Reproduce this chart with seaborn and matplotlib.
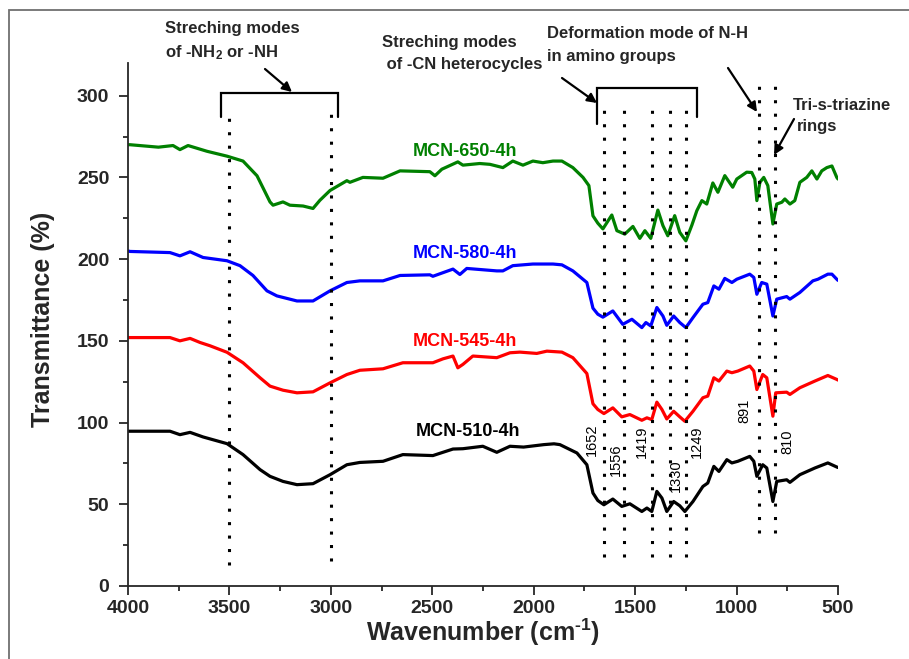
import matplotlib
matplotlib.use("Agg")
import matplotlib.pyplot as plt
from matplotlib.patches import Rectangle
from matplotlib.ticker import MultipleLocator
import numpy as np
import pandas as pd
import seaborn as sns

# ---------------- data ----------------
wn_650 = [4000, 3990, 3850, 3778, 3744, 3704, 3611, 3512, 3433, 3364, 3300, 3285, 3236, 3202, 3137, 3088,
          3054, 3004, 2921, 2906, 2842, 2743, 2659, 2512, 2487, 2453, 2374, 2349, 2266, 2216, 2152, 2103,
          2053, 2004, 1955, 1905, 1861, 1807, 1757, 1728, 1708, 1684, 1659, 1615, 1590, 1551, 1511, 1477,
          1452, 1423, 1388, 1363, 1339, 1305, 1280, 1250, 1220, 1196, 1171, 1147, 1117, 1092, 1058, 1019,
          999, 950, 925, 910, 900, 885, 866, 846, 821, 802, 777, 762, 737, 713, 688, 654, 629, 604, 580,
          555, 530, 506, 500]
t_650 = [270, 270, 268.5, 269.5, 267, 269.5, 266, 263, 260, 251, 235, 233, 235, 233, 232.5, 231,
         236, 242, 248, 247, 250, 249.5, 254, 253.5, 251, 255, 259.5, 257.5, 258.5, 258, 256, 260,
         257.5, 260, 259, 260, 260, 256, 250, 245, 226.5, 222, 218.5, 227, 217.4, 215.3, 220, 212.7,
         217.4, 212.7, 230, 220.5, 214.3, 226.6, 216.4, 211.2, 220.9, 229.6, 235.8, 233.7, 246.6, 240.9,
         251.1, 244, 249, 253.2, 253, 249, 235.8, 247, 250, 245, 221.5, 233.7, 234.8, 236.8, 233.7,
         235.8, 247, 250, 254, 249, 254, 256, 257, 250, 249]

wn_580 = [4000, 3990, 3793, 3744, 3694, 3630, 3512, 3448, 3384, 3315, 3266, 3167, 3088, 3004, 2921, 2857,
          2743, 2659, 2512, 2497, 2398, 2364, 2330, 2300, 2182, 2152, 2103, 2004, 1905, 1861, 1807, 1738,
          1708, 1684, 1659, 1610, 1561, 1516, 1467, 1447, 1423, 1393, 1363, 1344, 1310, 1280, 1250, 1215,
          1166, 1142, 1112, 1087, 1058, 1023, 999, 935, 915, 900, 876, 851, 821, 802, 753, 737, 688, 624,
          599, 550, 530, 506, 500]
t_580 = [205, 204.7, 204, 202, 204.5, 201, 199, 196, 190, 180.6, 177.5, 174.4, 174.4, 180.6, 185.7, 186.7,
         186.7, 190, 190.4, 189.5, 193.9, 190.6, 194.3, 194, 192.8, 192.8, 196, 197, 197, 196.5, 192.8, 185.7,
         170, 166.3, 164.5, 168.3, 160.1, 163.2, 158.1, 161.2, 159.1, 170.4, 165.2, 159.5, 165.2, 161.2, 158.1,
         164.2, 172.4, 173.4, 183.6, 181.6, 188.2, 185.7, 187.7, 190.8, 188.8, 178.5, 185.7, 184.7, 165.2,
         175.5, 177.1, 175.5, 179.6, 186.7, 187.7, 190.8, 190.8, 187.7, 187]

wn_545 = [4000, 3990, 3793, 3744, 3694, 3645, 3596, 3512, 3433, 3349, 3300, 3236, 3167, 3088, 3004, 2921,
          2857, 2743, 2645, 2497, 2447, 2398, 2374, 2349, 2300, 2182, 2117, 2068, 1985, 1935, 1861, 1807,
          1738, 1708, 1684, 1654, 1610, 1566, 1526, 1467, 1442, 1418, 1393, 1368, 1344, 1310, 1280, 1255,
          1215, 1166, 1142, 1112, 1087, 1048, 1023, 994, 935, 915, 900, 871, 851, 821, 807, 753, 737, 688,
          614, 550, 506, 500]
t_545 = [152, 152, 152, 150, 151.5, 149, 147, 143, 136.6, 127.4, 122.3, 119.8, 118.2, 118.8, 124.3, 129.4,
         132, 132.9, 136.6, 136.6, 139, 140.7, 133.5, 135.6, 140.7, 139.7, 142.7, 143.1, 142.3, 143.7, 143.1,
         139.7, 130, 111.5, 108, 105.5, 109, 103.5, 104.9, 101.4, 102.9, 101.8, 112.5, 108, 102.2, 106.9,
         103.5, 100.8, 106.9, 115.2, 116.2, 127.4, 125.4, 131.5, 130.5, 131.5, 134.6, 131.5, 120.2, 129.4,
         127.4, 103.9, 118.2, 118.6, 117.2, 121.3, 125.4, 128.8, 126.4, 126]

wn_510 = [4000, 3990, 3793, 3744, 3694, 3630, 3512, 3433, 3349, 3300, 3236, 3167, 3088, 3004, 2921, 2857,
          2743, 2645, 2497, 2398, 2349, 2251, 2182, 2117, 2050, 1950, 1900, 1871, 1787, 1738, 1708, 1684,
          1654, 1610, 1566, 1526, 1467, 1442, 1418, 1393, 1368, 1344, 1310, 1280, 1255, 1215, 1166, 1142,
          1112, 1087, 1048, 1023, 994, 935, 915, 900, 871, 851, 821, 802, 753, 737, 688, 614, 550, 506, 500]
t_510 = [94.7, 94.7, 94.7, 92.6, 94, 91.2, 87.1, 80.4, 71.2, 67.1, 64, 62, 62.6, 68.1, 74.2, 75.6,
         76.3, 80.4, 79.8, 83.8, 84, 85.5, 81.8, 85.5, 85, 86.5, 87, 86.5, 81.4, 74.2, 56.9, 52.3,
         49.7, 53.2, 48.7, 50.3, 45.6, 47.7, 45.6, 57.9, 53.8, 45.6, 51.7, 49.1, 45.6, 51.7, 60.9, 63,
         73.2, 70.1, 77.3, 75.3, 76.3, 79.3, 76.3, 67.1, 74.2, 72.2, 51.7, 64, 65, 63.4, 68.1, 72.2, 75.3,
         72.8, 72.5]

series_names = ["MCN-650-4h", "MCN-580-4h", "MCN-545-4h", "MCN-510-4h"]
series_colors = ["#008000", "#0000FF", "#FF0000", "#000000"]

peak_positions = [1652, 1556, 1419, 1330, 1249, 891, 810]
peak_labels = ["1652", "1556", "1419", "1330", "1249", "891", "810"]
nh_positions = [3500, 3000]

x_ticks = [4000, 3500, 3000, 2500, 2000, 1500, 1000, 500]
y_ticks = [0, 50, 100, 150, 200, 250, 300]

# ---------------- style ----------------
sns.set_style("ticks")
plt.rcParams["font.family"] = ["Liberation Sans", "DejaVu Sans"]
plt.rcParams["font.weight"] = "bold"
plt.rcParams["axes.labelweight"] = "bold"
plt.rcParams["mathtext.fontset"] = "custom"
plt.rcParams["mathtext.rm"] = "Liberation Sans:bold"
plt.rcParams["mathtext.it"] = "Liberation Sans:bold"
plt.rcParams["mathtext.bf"] = "Liberation Sans:bold"
plt.rcParams["mathtext.default"] = "rm"

W, H = 909, 659
fig = plt.figure(figsize=(W / 100, H / 100), dpi=100)
fig.patch.set_facecolor("white")
ax = fig.add_axes([128 / W, 1 - 586 / H, (838 - 128) / W, (586 - 63) / H])

def fx(px):
    return px / W

def fy(py):
    return 1 - py / H

# ---------------- curves ----------------
data_sets = [(wn_650, t_650), (wn_580, t_580), (wn_545, t_545), (wn_510, t_510)]
for (wn, t), name, col in zip(data_sets, series_names, series_colors):
    df = pd.DataFrame({"Wavenumber": wn, "Transmittance": t})
    sns.lineplot(data=df, x="Wavenumber", y="Transmittance", color=col, lw=2.3,
                 ax=ax, sort=False, estimator=None, legend=False)

ax.set_xlim(4000, 500)
ax.set_ylim(0, 320)
ax.xaxis.set_major_locator(MultipleLocator(500))
ax.xaxis.set_minor_locator(MultipleLocator(250))
ax.yaxis.set_major_locator(MultipleLocator(50))
ax.yaxis.set_minor_locator(MultipleLocator(25))
ax.set_xticks(x_ticks)
ax.set_yticks(y_ticks)
sns.despine(ax=ax)
for s in ["left", "bottom"]:
    ax.spines[s].set_linewidth(1.3)
ax.tick_params(axis="both", which="major", direction="out", length=6.5, width=1.3, labelsize=14)
ax.tick_params(axis="both", which="minor", direction="out", length=3.6, width=1.3)
ax.tick_params(axis="y", which="major", pad=7)
ax.tick_params(axis="x", which="major", pad=3.5)
for lbl in ax.get_xticklabels() + ax.get_yticklabels():
    lbl.set_fontweight("bold")

ax.set_xlabel(r"Wavenumber (cm$^{\text{-1}}$)", fontsize=18)
ax.set_ylabel("Transmittance (%)", fontsize=18)
ax.xaxis.set_label_coords(0.5, -0.058)
ax.yaxis.set_label_coords(-0.103, 0.51)

# ---------------- dotted guide lines ----------------
dot = (0, (1, 3.4))
ax.plot([3500, 3500], [13, 291], color="k", lw=2.2, ls=dot, clip_on=False)
ax.plot([3000, 3000], [15, 294], color="k", lw=2.2, ls=dot, clip_on=False)
for p in peak_positions[:5]:
    ax.plot([p, p], [18, 297], color="k", lw=2.2, ls=dot, clip_on=False)
for p in peak_positions[5:]:
    ax.plot([p, p], [32.5, 310], color="k", lw=2.2, ls=dot, clip_on=False)

# peak labels
peak_label_px = [(592, 440), (616, 460), (642, 442), (676, 476), (697, 442), (744, 411), (787, 442)]
for lab, (px, py) in zip(peak_labels, peak_label_px):
    fig.text(fx(px), fy(py), lab, rotation=90, ha="center", va="center",
             fontsize=10.5, fontweight="normal", color="k")

# brackets
ax.plot([3542, 3542, 2965, 2965], [287, 301.8, 301.8, 287], color="k", lw=1.6, clip_on=False,
        solid_joinstyle="miter")
ax.plot([1689, 1689, 1196, 1196], [282.8, 304.9, 304.9, 287], color="k", lw=1.6, clip_on=False,
        solid_joinstyle="miter")

# curve labels
label_px = [(465, 152), (465, 253), (465, 342), (468, 431)]
for name, col, (px, py) in zip(series_names, series_colors, label_px):
    fig.text(fx(px), fy(py), name, color=col, fontsize=13, fontweight="bold",
             ha="center", va="center")

# annotation texts
fig.text(fx(165), fy(28), "Streching modes", fontsize=12, ha="left", va="center")
fig.text(fx(165), fy(53), "of -NH$_2$ or -NH", fontsize=12, ha="left", va="center")
fig.text(fx(382), fy(43), "Streching modes", fontsize=12, ha="left", va="center")
fig.text(fx(382), fy(65), " of -CN heterocycles", fontsize=12, ha="left", va="center")
fig.text(fx(547), fy(33), "Deformation mode of N-H", fontsize=12, ha="left", va="center")
fig.text(fx(547), fy(57), "in amino groups", fontsize=12, ha="left", va="center")
fig.text(fx(793), fy(106), "Tri-s-triazine", fontsize=12, ha="left", va="center")
fig.text(fx(797), fy(127), "rings", fontsize=12, ha="left", va="center")

arrows = [((265, 69), (292, 92)), ((562, 78), (597, 103)), ((728, 68), (757, 112)), ((794, 119), (774, 155))]
for (x0, y0), (x1, y1) in arrows:
    ax.annotate("", xy=(x1, H - y1), xycoords="figure pixels",
                xytext=(x0, H - y0), textcoords="figure pixels",
                arrowprops=dict(arrowstyle="-|>", color="k", lw=1.6, mutation_scale=14,
                                shrinkA=0, shrinkB=0))

# figure frame
fig.patches.append(Rectangle((9 / W, -0.1), 1.2, 1 - 10 / H + 0.1, transform=fig.transFigure,
                             fill=False, ec="#707070", lw=1.3))

fig.savefig("out.png", dpi=100)
